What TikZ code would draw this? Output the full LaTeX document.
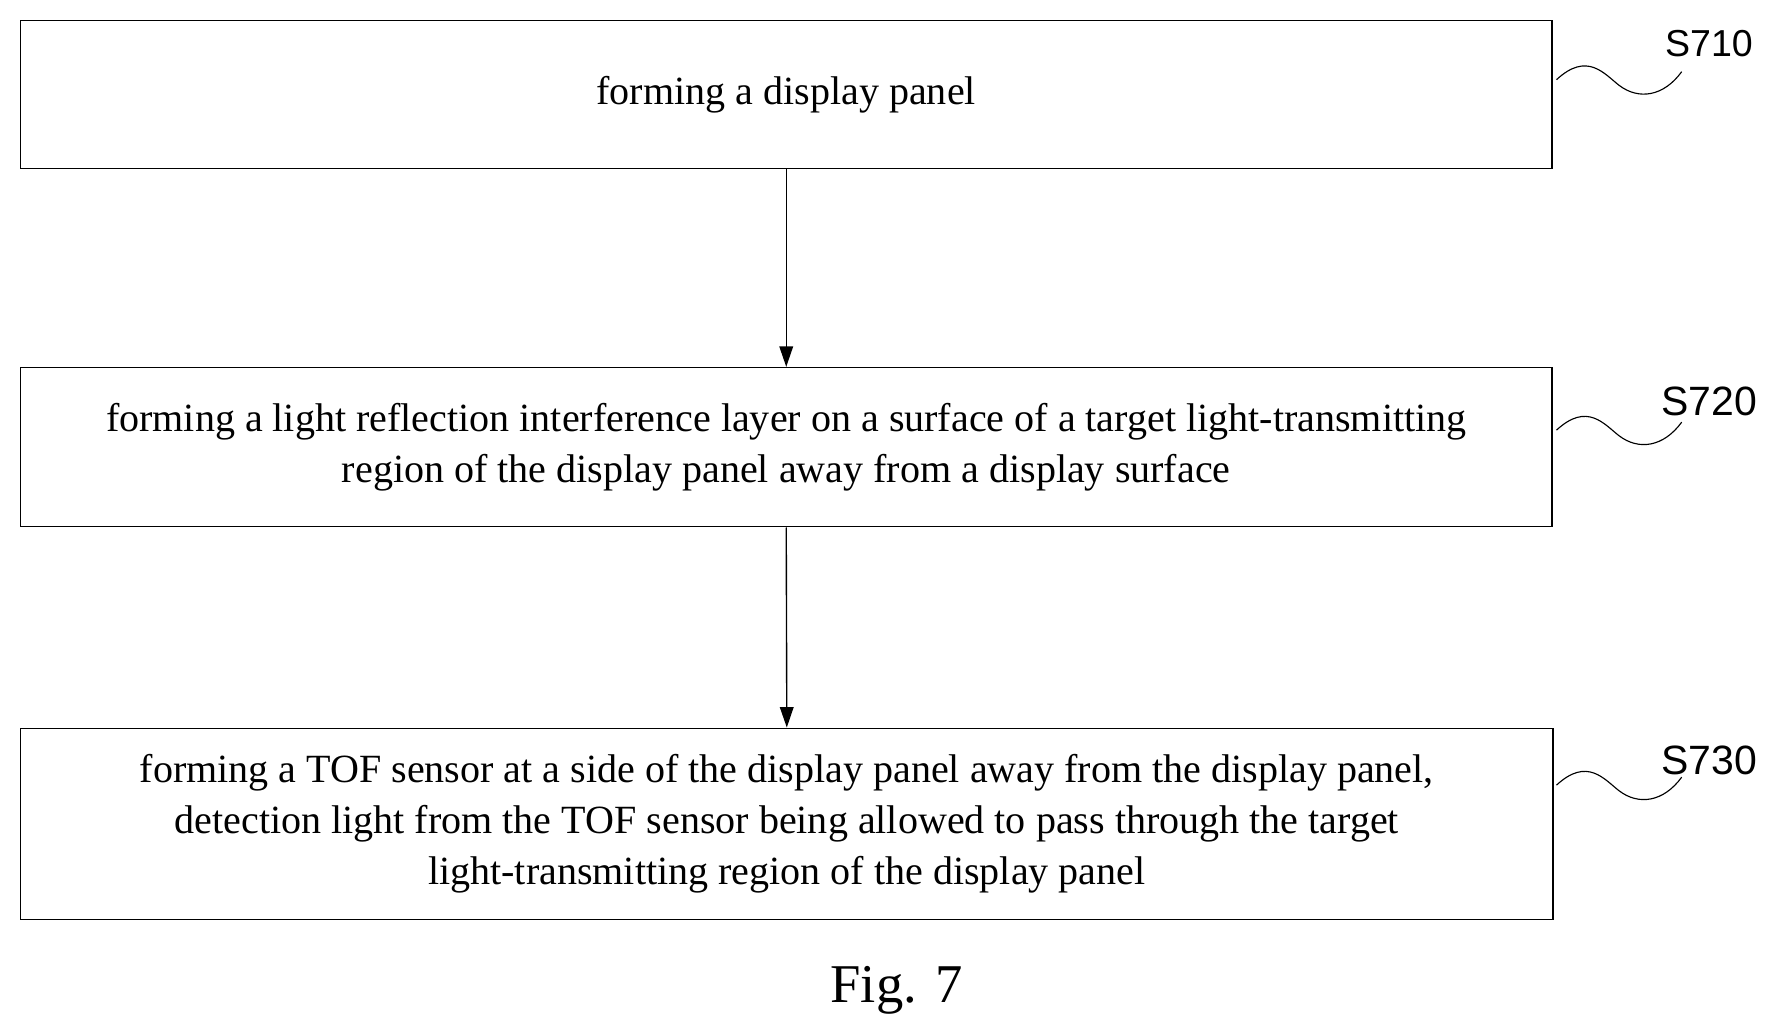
\documentclass[tikz,border=0pt]{standalone}
\usepackage{fontspec}
\setmainfont{Liberation Serif}
\newfontfamily\labelfont{Liberation Sans}
\usetikzlibrary{arrows.meta}
\tikzset{
  stepbox/.style={draw, line width=0.6pt, inner sep=0pt, align=center, font=\fontsize{17.6}{22.5}\selectfont},
  steplabel/.style={font=\labelfont\fontsize{18}{20}\selectfont},
  flow/.style={-{Triangle[length=9pt,width=6pt]}, line width=0.6pt}
}
\begin{document}
\begin{tikzpicture}[x=0.5pt,y=-0.5pt]
\useasboundingbox (0,0) rectangle (1560,905);
% steps
\node[stepbox, minimum width=673pt, minimum height=65pt] (s710) at (691,83) {forming a display panel};
\node[stepbox, minimum width=673pt, minimum height=70pt] (s720) at (691,393) {forming a light reflection interference layer on a surface of a target light-transmitting\\region of the display panel away from a display surface};
\node[stepbox, minimum width=673.5pt, minimum height=84pt] (s730) at (691.5,724) {forming a TOF sensor at a side of the display panel away from the display panel,\\detection light from the TOF sensor being allowed to pass through the target\\light-transmitting region of the display panel};
% arrows
\draw[flow] (s710.south) -- (s720.north);
\draw[flow] (s720.south) -- (s730.north);
% labels
\node[steplabel, font=\labelfont\fontsize{16.5}{18}\selectfont] (l710) at (1502,38) {S710};
\node[steplabel] (l720) at (1502,353) {S720};
\node[steplabel] (l730) at (1502,668) {S730};
\foreach \y in {70,378,690}
  \draw[line width=0.5pt] (1368,\y) .. controls (1395,\y-25) and (1410,\y-5) .. (1423,\y+5)
    .. controls (1440,\y+18) and (1462,\y+15) .. (1478,\y-7);
% caption
\node[font=\fontsize{24}{26}\selectfont] (cap) at (788,870) {Fig. 7};
\end{tikzpicture}
\end{document}
